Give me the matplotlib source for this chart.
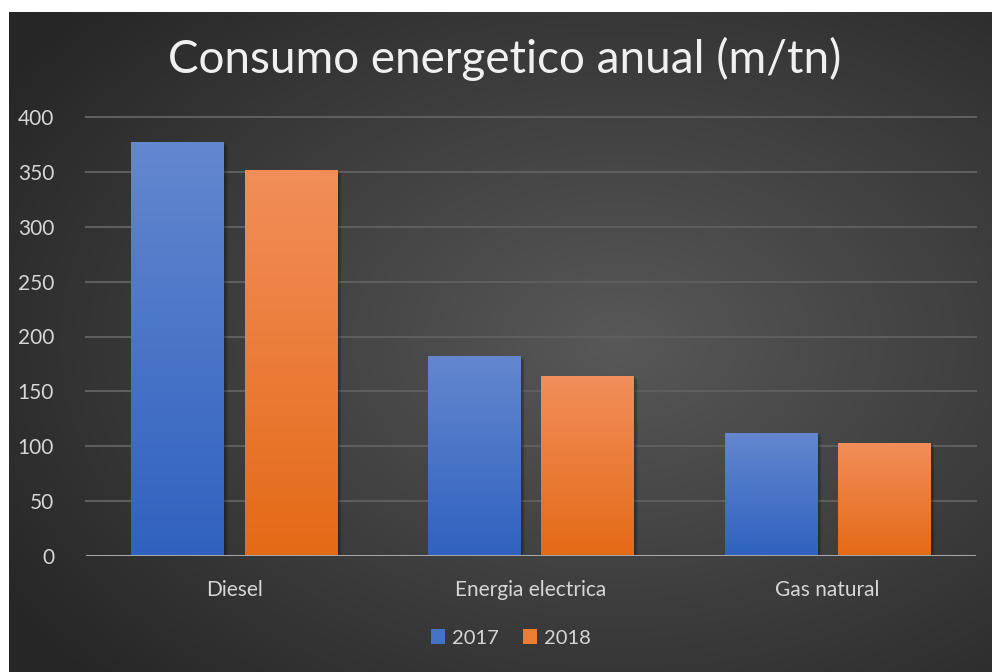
import numpy as np
import matplotlib.pyplot as plt
from matplotlib.patches import Patch, Rectangle
from matplotlib.colors import LinearSegmentedColormap

categories = ["Diesel", "Energia electrica", "Gas natural"]
series = ["2017", "2018"]
values_2017 = [377, 182, 112]
values_2018 = [352, 164, 103]
yticks = [0, 50, 100, 150, 200, 250, 300, 350, 400]

W, H = 992, 672
fig = plt.figure(figsize=(W / 100, H / 100), dpi=100, facecolor="white")

# dark panel with radial gradient
bg = fig.add_axes([9 / W, 0, (W - 9) / W, (H - 12) / H])
bg.set_axis_off()
yy, xx = np.mgrid[0:1:400j, 0:1:600j]
r = np.sqrt(((xx - 0.62) / 0.75) ** 2 + ((yy - 0.5) / 0.75) ** 2)
r = np.clip(r, 0, 1)
bg_cmap = LinearSegmentedColormap.from_list("bg", ["#585858", "#262626"])
bg.imshow(r, cmap=bg_cmap, aspect="auto", extent=[0, 1, 0, 1], vmin=0, vmax=1)
bg.set_xlim(0, 1)
bg.set_ylim(0, 1)

ax = fig.add_axes([86 / W, (H - 556) / H, 890 / W, 439 / H])
ax.patch.set_alpha(0)

x = np.arange(len(categories))
off = 0.191
bw = 0.313
grads = {
    "2017": ["#6487cf", "#2f62bf"],
    "2018": ["#f28e5a", "#e46a16"],
}
for vals, name, dx in [(values_2017, "2017", -off), (values_2018, "2018", off)]:
    bars = ax.bar(x + dx, vals, width=bw, color="none", zorder=3)
    cm = LinearSegmentedColormap.from_list(name, grads[name][::-1])
    for b in bars:
        bx, by = b.get_x(), b.get_y()
        bwid, bh = b.get_width(), b.get_height()
        # soft shadow
        for k in range(6):
            s = Rectangle((bx + 0.004 + k * 0.002, by), bwid, bh - k * 0.6,
                          facecolor="black", alpha=0.06, edgecolor="none", zorder=2)
            ax.add_patch(s)
        grad = np.linspace(0, 1, 256).reshape(-1, 1)
        im = ax.imshow(grad, cmap=cm, aspect="auto", origin="lower",
                       extent=[bx, bx + bwid, by, by + bh], zorder=3)
        im.set_clip_path(b)

ax.set_xlim(-0.5, 2.5)
ax.set_ylim(0, 400)

font = "Lato"
txt = "#d6d6d6"
ax.set_yticks(yticks)
ax.set_yticklabels([str(t) for t in yticks], fontsize=15, color=txt, family=font)
ax.set_xticks(x)
ax.set_xticklabels(categories, fontsize=15, color=txt, family=font)
ax.tick_params(axis="both", length=0)
ax.tick_params(axis="y", pad=23)
ax.tick_params(axis="x", pad=17)

for t in yticks[1:]:
    ax.axhline(t, color="#5e5e5e", lw=1.5, zorder=1, clip_on=False)
ax.axhline(0, color="#a6a6a6", lw=2.2, zorder=4)
for s in ax.spines.values():
    s.set_visible(False)

fig.text(505 / W, 1 - 59 / H, "Consumo energetico anual (m/tn)", ha="center",
         va="center", fontsize=33, color="#f0f0f0", family=font)

handles = [Patch(facecolor="#4472c4", label="2017"),
           Patch(facecolor="#ed7d31", label="2018")]
fig.legend(handles=handles, loc="center", bbox_to_anchor=(511 / W, 1 - 638 / H),
           ncol=2, frameon=False, labelcolor=txt,
           handlelength=0.7, handleheight=0.7, handletextpad=0.35,
           columnspacing=1.2, prop={"family": font, "size": 14.5})

fig.savefig("out.png", dpi=100, facecolor="white")
